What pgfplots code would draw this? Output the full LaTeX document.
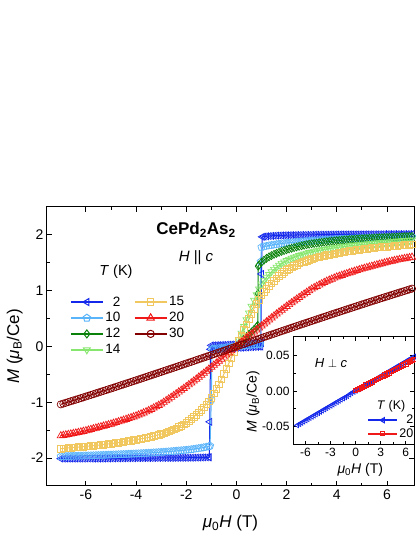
\documentclass[border=0pt]{standalone}
\usepackage{fontspec}
\setmainfont{Liberation Sans}
\usepackage{pgfplots}
\pgfplotsset{compat=1.18}

\definecolor{c2}{RGB}{20,40,235}
\definecolor{c10}{RGB}{90,180,250}
\definecolor{c12}{RGB}{10,130,10}
\definecolor{c14}{RGB}{135,230,110}
\definecolor{c15}{RGB}{240,200,95}
\definecolor{c20}{RGB}{240,25,25}
\definecolor{c30}{RGB}{130,0,0}

\pgfplotsset{
  dat/.style={line width=1pt, forget plot},
  mk/.style={mark options={fill=white, line width=0.7pt, solid, #1}},
  mk/.default={},
  leg/.style={line width=1.8pt},
  lmk/.style={mark options={fill=white, line width=1pt, solid, #1}},
  lmk/.default={},
}

\begin{document}
\begin{tikzpicture}
\useasboundingbox (0,0) rectangle (415pt,537pt);

% main panel, H || c
\begin{axis}[
  at={(47pt,51pt)}, anchor=south west, scale only axis,
  width=367pt, height=279pt,
  xmin=-7.55, xmax=7.08, ymin=-2.5, ymax=2.5,
  xtick={-6,-4,...,6}, ytick={-2,-1,...,2},
  minor x tick num=1, minor y tick num=1,
  tick align=inside, major tick length=5pt, minor tick length=3pt,
  every tick/.style={black, line width=0.8pt},
  axis line style={line width=1pt},
  /pgf/number format/assume math mode=true,
  tick label style={font=\fontsize{14}{16}\selectfont},
  xlabel={\textit{μ}\textsubscript{0}\textit{H} (T)},
  ylabel={\textit{M} (\textit{μ}\textsubscript{B}/Ce)},
  label style={font=\fontsize{17}{20}\selectfont},
  x label style={at={(axis description cs:0.5,-0.133)}, anchor=center},
  y label style={at={(axis description cs:-0.088,0.5)}, anchor=center},
  legend columns=2,
  legend cell align=right,
  legend style={draw=none, fill=none, at={(axis description cs:0.062,0.685)}, anchor=north west,
    font=\fontsize{13.5}{15}\selectfont, inner sep=0pt, row sep=2pt, nodes={inner sep=1.5pt},
    /tikz/every even column/.append style={column sep=12pt}},
  legend image code/.code={\draw[mark repeat=2,mark phase=2,#1] plot coordinates {(0pt,0pt) (16pt,0pt) (32pt,0pt)};},
]
% 2 K
\addplot[c2, dat, mark=triangle, mark size=4pt, mk={rotate=90}] coordinates {
(-7,-2.01) (-6.9,-2.01) (-6.8,-2.01) (-6.7,-2.01) (-6.6,-2.01) (-6.5,-2.01) (-6.4,-2.01) (-6.3,-2.01) (-6.2,-2.01) (-6.1,-2.01) (-6,-2.008) (-5.9,-2.008) (-5.8,-2.008) (-5.7,-2.008) (-5.6,-2.008) (-5.5,-2.007) (-5.4,-2.007) (-5.3,-2.007) (-5.2,-2.006) (-5.1,-2.006) (-5,-2.005) (-4.9,-2.005) (-4.8,-2.004) (-4.7,-2.004) (-4.6,-2.004) (-4.5,-2.003) (-4.4,-2.003) (-4.3,-2.002) (-4.2,-2.002) (-4.1,-2.002) (-4,-2.001) (-3.9,-2.001) (-3.8,-2.001) (-3.7,-2.0) (-3.6,-2.0) (-3.5,-2.0) (-3.4,-2.0) (-3.3,-1.999) (-3.2,-1.999) (-3.1,-1.998) (-3,-1.998) (-2.9,-1.998) (-2.8,-1.997) (-2.7,-1.997) (-2.6,-1.997) (-2.5,-1.996) (-2.4,-1.996) (-2.3,-1.995) (-2.2,-1.995) (-2.1,-1.994) (-2,-1.994) (-1.9,-1.993) (-1.8,-1.993) (-1.7,-1.992) (-1.6,-1.991) (-1.5,-1.99) (-1.4,-1.989) (-1.3,-1.988) (-1.2,-1.987) (-1.1,-1.986) (-1.08,-1.985) (-1.06,-1.35) (-1.03,-0.05) (-0.9,-0.0475) (-0.8,-0.045) (-0.7,-0.0425) (-0.6,-0.04) (-0.5,-0.0375) (-0.4,-0.035) (-0.3,-0.0325) (-0.2,-0.03) (-0.1,-0.0275) (0,-0.025) (0.1,-0.0225) (0.2,-0.02) (0.3,-0.0175) (0.4,-0.015) (0.5,-0.0125) (0.6,-0.01) (0.7,-0.0075) (0.8,-0.005) (0.9,-0.0025) (0.97,0.0) (1.0,1.30) (1.03,1.965) (1.1,1.97) (1.2,1.975) (1.3,1.979) (1.4,1.982) (1.5,1.985) (1.6,1.987) (1.7,1.989) (1.8,1.991) (1.9,1.993) (2,1.994) (2.1,1.995) (2.2,1.996) (2.3,1.997) (2.4,1.998) (2.5,1.999) (2.6,2.0) (2.7,2.0) (2.8,2.001) (2.9,2.001) (3,2.002) (3.1,2.002) (3.2,2.003) (3.3,2.003) (3.4,2.004) (3.5,2.004) (3.6,2.005) (3.7,2.005) (3.8,2.006) (3.9,2.006) (4,2.007) (4.1,2.007) (4.2,2.008) (4.3,2.008) (4.4,2.008) (4.5,2.009) (4.6,2.009) (4.7,2.009) (4.8,2.01) (4.9,2.01) (5,2.01) (5.1,2.011) (5.2,2.011) (5.3,2.011) (5.4,2.011) (5.5,2.012) (5.6,2.012) (5.7,2.012) (5.8,2.012) (5.9,2.013) (6,2.013) (6.1,2.013) (6.2,2.013) (6.3,2.014) (6.4,2.014) (6.5,2.014) (6.6,2.014) (6.7,2.015) (6.8,2.015) (6.9,2.015) (7,2.015)
};
\addplot[c2, dat, mark=triangle, mark size=4pt, mk={rotate=90}] coordinates {
(1.0,0.06) (0.9,0.058) (0.8,0.056) (0.7,0.054) (0.6,0.052) (0.5,0.05) (0.4,0.048) (0.3,0.046) (0.2,0.044) (0.1,0.042) (0,0.04) (-0.1,0.038) (-0.2,0.036) (-0.3,0.034) (-0.4,0.032) (-0.5,0.03) (-0.6,0.028) (-0.7,0.026) (-0.8,0.024) (-0.9,0.022) (-1.0,0.02)
};
% 10 K
\addplot[c10, dat, mark=pentagon, mark size=3.8pt, mk] coordinates {
(-7,-1.970) (-6.9,-1.968) (-6.8,-1.967) (-6.7,-1.966) (-6.6,-1.964) (-6.5,-1.963) (-6.4,-1.962) (-6.3,-1.961) (-6.2,-1.959) (-6.1,-1.958) (-6,-1.957) (-5.9,-1.956) (-5.8,-1.954) (-5.7,-1.953) (-5.6,-1.951) (-5.5,-1.950) (-5.4,-1.948) (-5.3,-1.946) (-5.2,-1.944) (-5.1,-1.943) (-5,-1.941) (-4.9,-1.939) (-4.8,-1.937) (-4.7,-1.935) (-4.6,-1.933) (-4.5,-1.931) (-4.4,-1.929) (-4.3,-1.927) (-4.2,-1.924) (-4.1,-1.922) (-4,-1.920) (-3.9,-1.918) (-3.8,-1.915) (-3.7,-1.913) (-3.6,-1.910) (-3.5,-1.908) (-3.4,-1.905) (-3.3,-1.902) (-3.2,-1.899) (-3.1,-1.896) (-3,-1.893) (-2.9,-1.890) (-2.8,-1.886) (-2.7,-1.883) (-2.6,-1.879) (-2.5,-1.875) (-2.4,-1.871) (-2.3,-1.867) (-2.2,-1.863) (-2.1,-1.859) (-2,-1.855) (-1.9,-1.850) (-1.8,-1.844) (-1.7,-1.838) (-1.6,-1.831) (-1.5,-1.824) (-1.4,-1.817) (-1.3,-1.809) (-1.2,-1.800) (-1.1,-1.791) (-1.05,-1.780) (-1.0,-0.96) (-0.97,-0.045) (-0.9,-0.042) (-0.8,-0.038) (-0.7,-0.033) (-0.6,-0.029) (-0.5,-0.024) (-0.4,-0.019) (-0.3,-0.014) (-0.2,-0.010) (-0.1,-0.005) (0,0) (0.1,0.005) (0.2,0.010) (0.3,0.014) (0.4,0.019) (0.5,0.024) (0.6,0.029) (0.7,0.033) (0.8,0.038) (0.9,0.042) (0.95,0.045) (0.97,1.52) (1.0,1.780) (1.1,1.791) (1.2,1.800) (1.3,1.809) (1.4,1.817) (1.5,1.824) (1.6,1.831) (1.7,1.838) (1.8,1.844) (1.9,1.850) (2,1.855) (2.1,1.859) (2.2,1.863) (2.3,1.867) (2.4,1.871) (2.5,1.875) (2.6,1.879) (2.7,1.883) (2.8,1.886) (2.9,1.890) (3,1.893) (3.1,1.896) (3.2,1.899) (3.3,1.902) (3.4,1.905) (3.5,1.908) (3.6,1.910) (3.7,1.913) (3.8,1.915) (3.9,1.918) (4,1.920) (4.1,1.922) (4.2,1.924) (4.3,1.927) (4.4,1.929) (4.5,1.931) (4.6,1.933) (4.7,1.935) (4.8,1.937) (4.9,1.939) (5,1.941) (5.1,1.943) (5.2,1.944) (5.3,1.946) (5.4,1.948) (5.5,1.950) (5.6,1.951) (5.7,1.953) (5.8,1.954) (5.9,1.956) (6,1.957) (6.1,1.958) (6.2,1.959) (6.3,1.961) (6.4,1.962) (6.5,1.963) (6.6,1.964) (6.7,1.966) (6.8,1.967) (6.9,1.968) (7,1.970)
};
% 12 K
\addplot[c12, dat, mark=diamond, mark size=4pt, mk] coordinates {
(0,0) (0.1,0.045) (0.2,0.09) (0.3,0.135) (0.4,0.18) (0.5,0.22) (0.6,0.26) (0.7,0.305) (0.8,0.35) (0.85,0.38) (0.86,0.95) (0.87,1.44) (0.9,1.46) (1.0,1.51) (1.1,1.548) (1.2,1.58) (1.3,1.607) (1.4,1.63) (1.5,1.651) (1.6,1.67) (1.7,1.688) (1.8,1.705) (1.9,1.72) (2,1.735) (2.1,1.748) (2.2,1.76) (2.3,1.773) (2.4,1.785) (2.5,1.795) (2.6,1.805) (2.7,1.815) (2.8,1.825) (2.9,1.833) (3,1.84) (3.1,1.847) (3.2,1.853) (3.3,1.86) (3.4,1.866) (3.5,1.872) (3.6,1.877) (3.7,1.883) (3.8,1.888) (3.9,1.893) (4,1.897) (4.1,1.901) (4.2,1.905) (4.3,1.909) (4.4,1.912) (4.5,1.916) (4.6,1.919) (4.7,1.922) (4.8,1.925) (4.9,1.928) (5,1.931) (5.1,1.934) (5.2,1.936) (5.3,1.939) (5.4,1.941) (5.5,1.944) (5.6,1.946) (5.7,1.948) (5.8,1.95) (5.9,1.952) (6,1.954) (6.1,1.956) (6.2,1.958) (6.3,1.96) (6.4,1.962) (6.5,1.964) (6.6,1.966) (6.7,1.968) (6.8,1.97) (6.9,1.972) (7,1.974)
};
% 14 K
\addplot[c14, dat, mark=triangle, mark size=4pt, mk={rotate=180}] coordinates {
(0,0) (0.1,0.12) (0.2,0.24) (0.3,0.36) (0.4,0.48) (0.5,0.60) (0.6,0.72) (0.7,0.83) (0.8,0.93) (0.9,1.03) (1.0,1.12) (1.1,1.185) (1.2,1.24) (1.3,1.292) (1.4,1.34) (1.5,1.382) (1.6,1.42) (1.7,1.456) (1.8,1.49) (1.9,1.516) (2,1.54) (2.1,1.561) (2.2,1.58) (2.3,1.598) (2.4,1.615) (2.5,1.63) (2.6,1.645) (2.7,1.658) (2.8,1.67) (2.9,1.683) (3,1.695) (3.1,1.705) (3.2,1.715) (3.3,1.724) (3.4,1.732) (3.5,1.74) (3.6,1.748) (3.7,1.755) (3.8,1.762) (3.9,1.769) (4,1.775) (4.1,1.781) (4.2,1.787) (4.3,1.793) (4.4,1.799) (4.5,1.805) (4.6,1.81) (4.7,1.815) (4.8,1.82) (4.9,1.825) (5,1.83) (5.1,1.834) (5.2,1.838) (5.3,1.842) (5.4,1.846) (5.5,1.85) (5.6,1.854) (5.7,1.858) (5.8,1.862) (5.9,1.866) (6,1.87) (6.1,1.874) (6.2,1.878) (6.3,1.882) (6.4,1.886) (6.5,1.89) (6.6,1.894) (6.7,1.898) (6.8,1.902) (6.9,1.906) (7,1.91)
};
% 15 K
\addplot[c15, dat, mark=square, mark size=3.3pt, mk] coordinates {
(-7,-1.83) (-6.9,-1.826) (-6.8,-1.822) (-6.7,-1.818) (-6.6,-1.814) (-6.5,-1.81) (-6.4,-1.806) (-6.3,-1.802) (-6.2,-1.798) (-6.1,-1.794) (-6,-1.79) (-5.9,-1.786) (-5.8,-1.782) (-5.7,-1.778) (-5.6,-1.774) (-5.5,-1.769) (-5.4,-1.764) (-5.3,-1.758) (-5.2,-1.752) (-5.1,-1.746) (-5,-1.74) (-4.9,-1.734) (-4.8,-1.728) (-4.7,-1.722) (-4.6,-1.716) (-4.5,-1.709) (-4.4,-1.702) (-4.3,-1.694) (-4.2,-1.686) (-4.1,-1.678) (-4,-1.67) (-3.9,-1.662) (-3.8,-1.654) (-3.7,-1.646) (-3.6,-1.638) (-3.5,-1.628) (-3.4,-1.618) (-3.3,-1.606) (-3.2,-1.594) (-3.1,-1.582) (-3,-1.57) (-2.9,-1.554) (-2.8,-1.538) (-2.7,-1.522) (-2.6,-1.506) (-2.5,-1.487) (-2.4,-1.467) (-2.3,-1.444) (-2.2,-1.42) (-2.1,-1.396) (-2,-1.37) (-1.9,-1.336) (-1.8,-1.30) (-1.7,-1.262) (-1.6,-1.22) (-1.5,-1.18) (-1.4,-1.135) (-1.3,-1.087) (-1.2,-1.035) (-1.1,-0.98) (-1,-0.92) (-0.9,-0.84) (-0.8,-0.76) (-0.7,-0.68) (-0.6,-0.59) (-0.5,-0.495) (-0.4,-0.40) (-0.3,-0.30) (-0.2,-0.20) (-0.1,-0.10) (0,0) (0.1,0.10) (0.2,0.20) (0.3,0.30) (0.4,0.40) (0.5,0.495) (0.6,0.59) (0.7,0.68) (0.8,0.76) (0.9,0.84) (1,0.92) (1.1,0.98) (1.2,1.035) (1.3,1.087) (1.4,1.135) (1.5,1.18) (1.6,1.22) (1.7,1.262) (1.8,1.30) (1.9,1.336) (2,1.37) (2.1,1.396) (2.2,1.42) (2.3,1.444) (2.4,1.467) (2.5,1.487) (2.6,1.506) (2.7,1.522) (2.8,1.538) (2.9,1.554) (3,1.57) (3.1,1.582) (3.2,1.594) (3.3,1.606) (3.4,1.618) (3.5,1.628) (3.6,1.638) (3.7,1.646) (3.8,1.654) (3.9,1.662) (4,1.67) (4.1,1.678) (4.2,1.686) (4.3,1.694) (4.4,1.702) (4.5,1.709) (4.6,1.716) (4.7,1.722) (4.8,1.728) (4.9,1.734) (5,1.74) (5.1,1.746) (5.2,1.752) (5.3,1.758) (5.4,1.764) (5.5,1.769) (5.6,1.774) (5.7,1.778) (5.8,1.782) (5.9,1.786) (6,1.79) (6.1,1.794) (6.2,1.798) (6.3,1.802) (6.4,1.806) (6.5,1.81) (6.6,1.814) (6.7,1.818) (6.8,1.822) (6.9,1.826) (7,1.83)
};
% 20 K
\addplot[c20, dat, mark=triangle, mark size=4.2pt, mk] coordinates {
(-7,-1.600) (-6.9,-1.592) (-6.8,-1.584) (-6.7,-1.576) (-6.6,-1.568) (-6.5,-1.559) (-6.4,-1.550) (-6.3,-1.540) (-6.2,-1.530) (-6.1,-1.520) (-6,-1.510) (-5.9,-1.498) (-5.8,-1.486) (-5.7,-1.474) (-5.6,-1.462) (-5.5,-1.450) (-5.4,-1.438) (-5.3,-1.426) (-5.2,-1.414) (-5.1,-1.402) (-5,-1.390) (-4.9,-1.376) (-4.8,-1.362) (-4.7,-1.348) (-4.6,-1.334) (-4.5,-1.320) (-4.4,-1.305) (-4.3,-1.290) (-4.2,-1.275) (-4.1,-1.260) (-4,-1.245) (-3.9,-1.227) (-3.8,-1.208) (-3.7,-1.189) (-3.6,-1.170) (-3.5,-1.148) (-3.4,-1.126) (-3.3,-1.102) (-3.2,-1.078) (-3.1,-1.055) (-3,-1.030) (-2.9,-1.000) (-2.8,-0.970) (-2.7,-0.940) (-2.6,-0.910) (-2.5,-0.879) (-2.4,-0.848) (-2.3,-0.816) (-2.2,-0.784) (-2.1,-0.752) (-2,-0.720) (-1.9,-0.686) (-1.8,-0.652) (-1.7,-0.618) (-1.6,-0.584) (-1.5,-0.549) (-1.4,-0.514) (-1.3,-0.478) (-1.2,-0.442) (-1.1,-0.406) (-1,-0.370) (-0.9,-0.334) (-0.8,-0.298) (-0.7,-0.262) (-0.6,-0.226) (-0.5,-0.189) (-0.4,-0.152) (-0.3,-0.114) (-0.2,-0.076) (-0.1,-0.038) (0,0) (0.1,0.038) (0.2,0.076) (0.3,0.114) (0.4,0.152) (0.5,0.189) (0.6,0.226) (0.7,0.262) (0.8,0.298) (0.9,0.334) (1,0.370) (1.1,0.406) (1.2,0.442) (1.3,0.478) (1.4,0.514) (1.5,0.549) (1.6,0.584) (1.7,0.618) (1.8,0.652) (1.9,0.686) (2,0.720) (2.1,0.752) (2.2,0.784) (2.3,0.816) (2.4,0.848) (2.5,0.879) (2.6,0.910) (2.7,0.940) (2.8,0.970) (2.9,1.000) (3,1.030) (3.1,1.055) (3.2,1.078) (3.3,1.102) (3.4,1.126) (3.5,1.148) (3.6,1.170) (3.7,1.189) (3.8,1.208) (3.9,1.227) (4,1.245) (4.1,1.260) (4.2,1.275) (4.3,1.290) (4.4,1.305) (4.5,1.320) (4.6,1.334) (4.7,1.348) (4.8,1.362) (4.9,1.376) (5,1.390) (5.1,1.402) (5.2,1.414) (5.3,1.426) (5.4,1.438) (5.5,1.450) (5.6,1.462) (5.7,1.474) (5.8,1.486) (5.9,1.498) (6,1.510) (6.1,1.520) (6.2,1.530) (6.3,1.540) (6.4,1.550) (6.5,1.559) (6.6,1.568) (6.7,1.576) (6.8,1.584) (6.9,1.592) (7,1.600)
};
% 30 K
\addplot[c30, dat, mark=o, mark size=3.6pt, mk] coordinates {
(-7,-1.037) (-6.9,-1.023) (-6.8,-1.009) (-6.7,-0.995) (-6.6,-0.981) (-6.5,-0.967) (-6.4,-0.953) (-6.3,-0.939) (-6.2,-0.925) (-6.1,-0.911) (-6,-0.896) (-5.9,-0.882) (-5.8,-0.868) (-5.7,-0.854) (-5.6,-0.839) (-5.5,-0.825) (-5.4,-0.810) (-5.3,-0.796) (-5.2,-0.782) (-5.1,-0.767) (-5,-0.753) (-4.9,-0.738) (-4.8,-0.723) (-4.7,-0.709) (-4.6,-0.694) (-4.5,-0.679) (-4.4,-0.665) (-4.3,-0.650) (-4.2,-0.635) (-4.1,-0.620) (-4,-0.606) (-3.9,-0.591) (-3.8,-0.576) (-3.7,-0.561) (-3.6,-0.546) (-3.5,-0.531) (-3.4,-0.516) (-3.3,-0.501) (-3.2,-0.486) (-3.1,-0.471) (-3,-0.456) (-2.9,-0.441) (-2.8,-0.426) (-2.7,-0.411) (-2.6,-0.396) (-2.5,-0.381) (-2.4,-0.366) (-2.3,-0.351) (-2.2,-0.336) (-2.1,-0.320) (-2,-0.305) (-1.9,-0.290) (-1.8,-0.275) (-1.7,-0.260) (-1.6,-0.244) (-1.5,-0.229) (-1.4,-0.214) (-1.3,-0.199) (-1.2,-0.183) (-1.1,-0.168) (-1,-0.153) (-0.9,-0.138) (-0.8,-0.122) (-0.7,-0.107) (-0.6,-0.092) (-0.5,-0.077) (-0.4,-0.061) (-0.3,-0.046) (-0.2,-0.031) (-0.1,-0.015) (0,0) (0.1,0.015) (0.2,0.031) (0.3,0.046) (0.4,0.061) (0.5,0.077) (0.6,0.092) (0.7,0.107) (0.8,0.122) (0.9,0.138) (1,0.153) (1.1,0.168) (1.2,0.183) (1.3,0.199) (1.4,0.214) (1.5,0.229) (1.6,0.244) (1.7,0.260) (1.8,0.275) (1.9,0.290) (2,0.305) (2.1,0.320) (2.2,0.336) (2.3,0.351) (2.4,0.366) (2.5,0.381) (2.6,0.396) (2.7,0.411) (2.8,0.426) (2.9,0.441) (3,0.456) (3.1,0.471) (3.2,0.486) (3.3,0.501) (3.4,0.516) (3.5,0.531) (3.6,0.546) (3.7,0.561) (3.8,0.576) (3.9,0.591) (4,0.606) (4.1,0.620) (4.2,0.635) (4.3,0.650) (4.4,0.665) (4.5,0.679) (4.6,0.694) (4.7,0.709) (4.8,0.723) (4.9,0.738) (5,0.753) (5.1,0.767) (5.2,0.782) (5.3,0.796) (5.4,0.810) (5.5,0.825) (5.6,0.839) (5.7,0.854) (5.8,0.868) (5.9,0.882) (6,0.896) (6.1,0.911) (6.2,0.925) (6.3,0.939) (6.4,0.953) (6.5,0.967) (6.6,0.981) (6.7,0.995) (6.8,1.009) (6.9,1.023) (7,1.037)
};
% legend, filled row by row
\addlegendimage{c2, leg, mark=triangle, mark size=4pt, lmk={rotate=90}}
\addlegendentry{2}
\addlegendimage{c15, leg, mark=square, mark size=3.3pt, lmk}
\addlegendentry{15}
\addlegendimage{c10, leg, mark=pentagon, mark size=3.8pt, lmk}
\addlegendentry{10}
\addlegendimage{c20, leg, mark=triangle, mark size=4.2pt, lmk}
\addlegendentry{20}
\addlegendimage{c12, leg, mark=diamond, mark size=4pt, lmk}
\addlegendentry{12}
\addlegendimage{c30, leg, mark=o, mark size=3.6pt, lmk}
\addlegendentry{30}
\addlegendimage{c14, leg, mark=triangle, mark size=4pt, lmk={rotate=180}}
\addlegendentry{14}

\node[font=\bfseries\fontsize{17}{20}\selectfont] at (axis description cs:0.406,0.918) {CePd\textsubscript{2}As\textsubscript{2}};
\node[font=\fontsize{15}{18}\selectfont] at (axis description cs:0.406,0.82) {\textit{H} || \textit{c}};
\node[font=\fontsize{14.5}{17}\selectfont] at (axis description cs:0.188,0.768) {\textit{T} (K)};
\end{axis}

% inset, H perp c
\begin{axis}[
  at={(293pt,92pt)}, anchor=south west, scale only axis,
  width=121pt, height=108pt,
  axis background/.style={fill=white},
  xmin=-7.5, xmax=7, ymin=-0.076, ymax=0.076,
  xtick={-6,-3,0,3,6}, ytick={-0.05,0,0.05},
  minor x tick num=1, minor y tick num=1,
  scaled y ticks=false,
  tick align=inside, major tick length=4pt, minor tick length=2.5pt,
  every tick/.style={black, line width=0.7pt},
  axis line style={line width=1pt},
  /pgf/number format/assume math mode=true,
  yticklabel style={/pgf/number format/.cd, fixed, fixed zerofill, precision=2},
  tick label style={font=\fontsize{12}{14}\selectfont},
  xlabel={\textit{μ}\textsubscript{0}\textit{H} (T)},
  ylabel={\textit{M} (\textit{μ}\textsubscript{B}/Ce)},
  label style={font=\fontsize{14}{16}\selectfont},
  x label style={at={(axis description cs:0.556,-0.23)}, anchor=center},
  y label style={at={(axis description cs:-0.33,0.4)}, anchor=center},
  legend cell align=right,
  legend style={draw=none, fill=none, at={(axis description cs:0.615,0.29)}, anchor=north west,
    font=\fontsize{12.5}{14}\selectfont, inner sep=0pt, row sep=1pt, nodes={inner sep=1.2pt}},
  legend image code/.code={\draw[mark repeat=2,mark phase=2,#1] plot coordinates {(0pt,0pt) (14.5pt,0pt) (29pt,0pt)};},
]
\addplot[c2, dat, mark=triangle, mark size=2.8pt, mk={rotate=90}] coordinates {
(-7,-0.0483) (-6.75,-0.0466) (-6.5,-0.0449) (-6.25,-0.0431) (-6,-0.0414) (-5.75,-0.0397) (-5.5,-0.0380) (-5.25,-0.0362) (-5,-0.0345) (-4.75,-0.0328) (-4.5,-0.0311) (-4.25,-0.0293) (-4,-0.0276) (-3.75,-0.0259) (-3.5,-0.0242) (-3.25,-0.0224) (-3,-0.0207) (-2.75,-0.0190) (-2.5,-0.0173) (-2.25,-0.0155) (-2,-0.0138) (-1.75,-0.0121) (-1.5,-0.0104) (-1.25,-0.0088) (-1,-0.0072) (-0.75,-0.0050) (-0.5,-0.0030) (-0.25,-0.0012) (0,0.0003) (0.25,0.0020) (0.5,0.0037) (0.75,0.0055) (1,0.0072) (1.25,0.0089) (1.5,0.0106) (1.75,0.0123) (2,0.0140) (2.25,0.0157) (2.5,0.0174) (2.75,0.0191) (3,0.0208) (3.25,0.0226) (3.5,0.0243) (3.75,0.0260) (4,0.0277) (4.25,0.0294) (4.5,0.0312) (4.75,0.0329) (5,0.0346) (5.25,0.0363) (5.5,0.0381) (5.75,0.0398) (6,0.0415) (6.25,0.0432) (6.5,0.0450) (6.75,0.0467) (7,0.0484)
};
\addplot[c20, dat, mark=square, mark size=2.2pt, mk] coordinates {
(0,0.0005) (0.25,0.0021) (0.5,0.0037) (0.75,0.0052) (1,0.0068) (1.25,0.0084) (1.5,0.0100) (1.75,0.0115) (2,0.0131) (2.25,0.0147) (2.5,0.0163) (2.75,0.0178) (3,0.0194) (3.25,0.0210) (3.5,0.0226) (3.75,0.0241) (4,0.0257) (4.25,0.0273) (4.5,0.0289) (4.75,0.0304) (5,0.0320) (5.25,0.0336) (5.5,0.0352) (5.75,0.0367) (6,0.0383) (6.25,0.0399) (6.5,0.0415) (6.75,0.0430) (7,0.0446)
};
\addlegendimage{c2, leg, line width=1.6pt, mark=triangle, mark size=3pt, lmk={rotate=90}}
\addlegendentry{2}
\addlegendimage{c20, leg, line width=1.6pt, mark=square, mark size=2pt, lmk}
\addlegendentry{20}
\node[font=\fontsize{13}{15}\selectfont] at (axis description cs:0.314,0.76) {\textit{H} $\perp$ \textit{c}};
\node[font=\fontsize{12.5}{14}\selectfont] at (axis description cs:0.81,0.355) {\textit{T} (K)};
\end{axis}
\end{tikzpicture}
\end{document}
